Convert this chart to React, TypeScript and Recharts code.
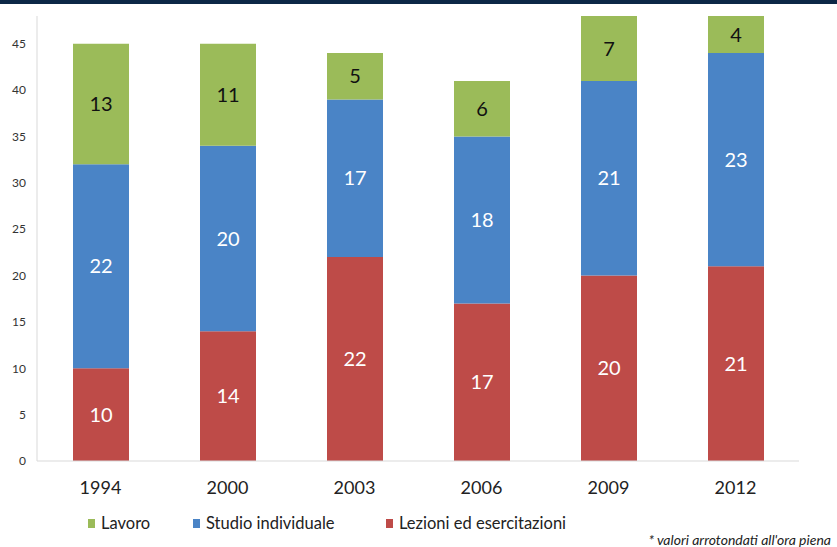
import { BarChart, Bar, XAxis, YAxis, LabelList } from 'recharts'

const years = ['1994', '2000', '2003', '2006', '2009', '2012']
const lezioni = [10, 14, 22, 17, 20, 21]
const studio = [22, 20, 17, 18, 21, 23]
const lavoro = [13, 11, 5, 6, 7, 4]
const yTicks = [0, 5, 10, 15, 20, 25, 30, 35, 40, 45]

const data = years.map((year, i) => ({
  year,
  lezioni: lezioni[i],
  studio: studio[i],
  lavoro: lavoro[i],
}))

const series = [
  { key: 'lavoro', label: 'Lavoro', color: '#9BBB59', left: 88 },
  { key: 'studio', label: 'Studio individuale', color: '#4A84C6', left: 193 },
  { key: 'lezioni', label: 'Lezioni ed esercitazioni', color: '#BE4B48', left: 386 },
]

const font = 'Lato, "Open Sans", sans-serif'

export default function App() {
  return (
    <div style={{ position: 'fixed', left: 0, top: 0, width: 837, height: 547, background: '#fff', overflow: 'hidden' }}>
      <div style={{ position: 'absolute', left: 0, top: 0, width: 837, height: 4, background: '#0c2746' }} />
      <BarChart
        width={837}
        height={547}
        data={data}
        margin={{ top: 16, right: 38, left: 0, bottom: 56 }}
        barSize={56}
      >
        <XAxis
          dataKey="year"
          height={30}
          axisLine={{ stroke: '#d9d9d9' }}
          tickLine={false}
          tickSize={0}
          tickMargin={20}
          tick={{ fill: '#222', fontSize: 18, fontFamily: font }}
        />
        <YAxis
          width={37}
          domain={[0, 48]}
          ticks={yTicks}
          interval={0}
          allowDataOverflow
          axisLine={{ stroke: '#d9d9d9' }}
          tickLine={false}
          tickSize={0}
          tickMargin={11}
          tick={{ fill: '#333', fontSize: 12, fontFamily: font }}
        />
        <Bar dataKey="lezioni" stackId="a" fill="#BE4B48" isAnimationActive={false}>
          <LabelList dataKey="lezioni" position="center" fill="#fff" fontSize={20} fontFamily={font} />
        </Bar>
        <Bar dataKey="studio" stackId="a" fill="#4A84C6" isAnimationActive={false}>
          <LabelList dataKey="studio" position="center" fill="#fff" fontSize={20} fontFamily={font} />
        </Bar>
        <Bar dataKey="lavoro" stackId="a" fill="#9BBB59" isAnimationActive={false}>
          <LabelList dataKey="lavoro" position="center" fill="#111" fontSize={20} fontFamily={font} />
        </Bar>
      </BarChart>
      {series.map((s) => (
        <div
          key={s.key}
          style={{
            position: 'absolute',
            left: s.left,
            top: 513,
            display: 'flex',
            alignItems: 'center',
            fontFamily: font,
            fontSize: 16.5,
            color: '#222',
            whiteSpace: 'nowrap',
          }}
        >
          <span style={{ width: 7, height: 9, background: s.color, marginRight: 6, display: 'inline-block' }} />
          <span>{s.label}</span>
        </div>
      ))}
      <div
        style={{
          position: 'absolute',
          right: 6,
          top: 531,
          fontFamily: font,
          fontStyle: 'italic',
          fontSize: 14,
          color: '#222',
        }}
      >
        * valori arrotondati all'ora piena
      </div>
    </div>
  )
}
